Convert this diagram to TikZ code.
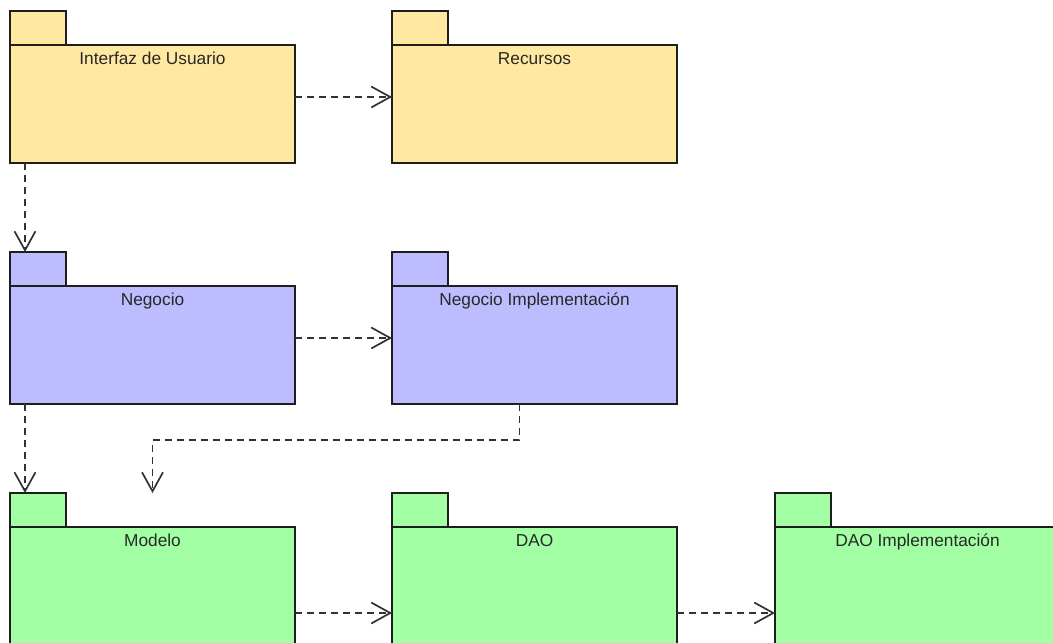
\documentclass[tikz,border=0pt]{standalone}
\usepackage{fontspec}
\setmainfont{Liberation Sans}
\usetikzlibrary{arrows.meta,calc}

\definecolor{pkgyellow}{RGB}{255,232,160}
\definecolor{pkgblue}{RGB}{188,188,255}
\definecolor{pkggreen}{RGB}{163,255,163}
\definecolor{pkgline}{RGB}{30,30,30}
\definecolor{deparrow}{RGB}{50,50,50}
\definecolor{pkgtext}{RGB}{40,40,40}

\tikzset{
  pkgbody/.style={draw=pkgline, line width=1.4pt, minimum width=285pt,
    minimum height=118pt, anchor=north west, inner sep=0pt, outer sep=0pt},
  pkgtab/.style={draw=pkgline, line width=1.4pt, minimum width=56pt,
    minimum height=34pt, anchor=south west, inner sep=0pt, outer sep=0pt},
  pkglabel/.style={anchor=base, inner sep=0pt, text=pkgtext,
    font=\fontsize{17.3}{20}\selectfont},
  dep/.style={draw=deparrow, line width=1.7pt, dash pattern=on 7pt off 5pt,
    -{Straight Barb[length=19pt,width=21pt,line width=1.7pt]}}
}

\newcommand{\umlpackage}[5]{%
  % #1 name, #2 x, #3 y (top of body), #4 fill, #5 title
  \node[pkgbody, fill=#4] (#1) at (#2,#3) {};
  \node[pkgtab, fill=#4] (#1-tab) at (#1.north west) {};
  \node[pkglabel] (#1-title) at ([yshift=-19pt]#1.north) {#5};
}

\begin{document}
\begin{tikzpicture}[x=1pt,y=-1pt]
  \useasboundingbox[fill=white] (0,0) rectangle (1053,643);
  \clip (0,0) rectangle (1053,643);

  % first row
  \umlpackage{ui}{10}{45}{pkgyellow}{Interfaz de Usuario}
  \umlpackage{rec}{392}{45}{pkgyellow}{Recursos}

  % second row
  \umlpackage{neg}{10}{286}{pkgblue}{Negocio}
  \umlpackage{negimpl}{392}{286}{pkgblue}{Negocio Implementación}

  % third row
  \umlpackage{mod}{10}{527}{pkggreen}{Modelo}
  \umlpackage{dao}{392}{527}{pkggreen}{DAO}
  \umlpackage{daoimpl}{775}{527}{pkggreen}{DAO Implementación}

  % dependencies
  \draw[dep] ([yshift=7pt]ui.east) -- ([yshift=7pt]rec.west);
  \draw[dep] ([xshift=15pt]ui.south west) -- ([xshift=15pt]neg-tab.north west);
  \draw[dep] ([yshift=7pt]neg.east) -- ([yshift=7pt]negimpl.west);
  \draw[dep] ([xshift=15pt]neg.south west) -- ([xshift=15pt]mod-tab.north west);
  \draw[dep] ([xshift=-15pt]negimpl.south) -- ++(0,36) -| (mod.north |- mod-tab.north);
  \draw[dep] ([yshift=-27pt]mod.east) -- ([yshift=-27pt]dao.west);
  \draw[dep] ([yshift=-27pt]dao.east) -- ([yshift=-27pt]daoimpl.west);
\end{tikzpicture}
\end{document}
